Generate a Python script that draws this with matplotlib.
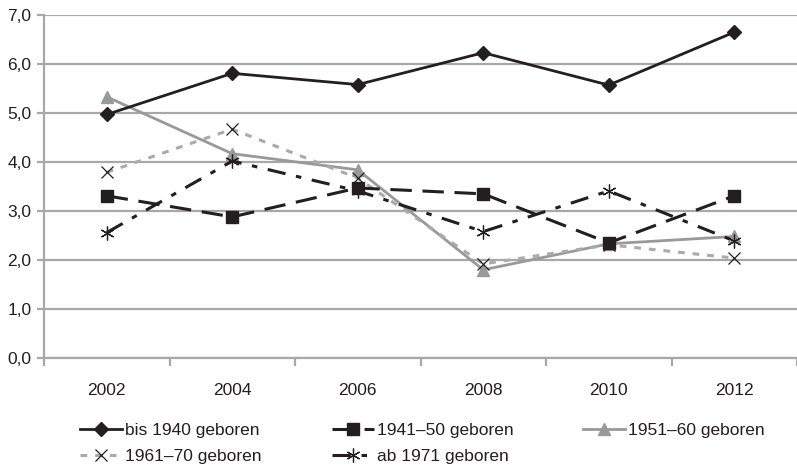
import numpy as np
import matplotlib.pyplot as plt

plt.rcParams['font.family'] = ['Liberation Sans Narrow', 'Liberation Sans', 'DejaVu Sans']

years = ['2002', '2004', '2006', '2008', '2010', '2012']
bis_1940 = [4.97, 5.81, 5.58, 6.23, 5.57, 6.65]
j1941_50 = [3.31, 2.88, 3.47, 3.35, 2.35, 3.31]
j1951_60 = [5.33, 4.17, 3.84, 1.80, 2.33, 2.48]
j1961_70 = [3.79, 4.67, 3.67, 1.92, 2.31, 2.04]
ab_1971 = [2.56, 4.02, 3.41, 2.58, 3.41, 2.39]
labels = ['bis 1940 geboren', '1941–50 geboren', '1951–60 geboren',
          '1961–70 geboren', 'ab 1971 geboren']

black = '#231f20'
gray = '#999999'
lgray = '#aaaaaa'
grid = '#a8a8a8'
fs = 12.5

fig = plt.figure(figsize=(7.97, 4.65), dpi=100)
ax = fig.add_axes([44 / 797, 0.2301, 1 - 44 / 797, 0.7376])

x = np.arange(len(years))
h1, = ax.plot(x, bis_1940, '-', color=black, lw=2.0, marker='D', ms=7.5,
              mfc=black, mec=black, label=labels[0], zorder=5)
h2, = ax.plot(x, j1941_50, color=black, lw=2.2, dashes=(7, 3.5), marker='s', ms=8,
              mfc=black, mec=black, label=labels[1], zorder=4)
h3, = ax.plot(x, j1951_60, '-', color=gray, lw=2.0, marker='^', ms=9,
              mfc=gray, mec=gray, label=labels[2], zorder=3)
h4, = ax.plot(x, j1961_70, color=lgray, lw=2.2, dashes=(2.2, 2.6), marker='x', ms=9,
              mfc='none', mec=black, mew=0.9, label=labels[3], zorder=3)
h5, = ax.plot(x, ab_1971, color=black, lw=2.2, dashes=(6, 3.5, 1.8, 3.5), marker=(6, 2, 0), ms=10,
              mec=black, mew=0.9, label=labels[4], zorder=4)

ax.set_xlim(-0.5, 5.5)
ax.set_ylim(0, 7)
ax.set_yticks(np.arange(0, 7.5, 1))
ax.set_yticklabels([f'{v:.1f}'.replace('.', ',') for v in np.arange(0, 7.5, 1)])
ax.set_xticks(x)
ax.set_xticklabels(years)
ax.set_xticks(np.arange(-0.5, 5.6, 1), minor=True)

ax.yaxis.grid(True, color=grid, lw=1.6)
ax.set_axisbelow(True)
for s in ['top', 'right']:
    ax.spines[s].set_visible(False)
for s in ['left', 'bottom']:
    ax.spines[s].set_color(grid)
    ax.spines[s].set_linewidth(1.6)

ax.tick_params(axis='x', which='major', length=0, pad=18, labelsize=fs, labelcolor=black)
ax.tick_params(axis='x', which='minor', length=6, width=1.6, color=grid)
ax.tick_params(axis='y', length=5, width=1.6, color=grid, pad=4, labelsize=fs, labelcolor=black)

# legend: three columns placed at fixed positions
cols = [([h1, h4], 80), ([h2, h5], 332), ([h3], 583)]
for hs, xp in cols:
    leg = fig.legend(handles=hs, loc='upper left', bbox_to_anchor=(xp / 797, 1 - 423 / 465),
                     frameon=False, fontsize=fs, handlelength=2.4, handletextpad=0.2,
                     labelspacing=0.6, borderpad=0, borderaxespad=0)
    for t in leg.get_texts():
        t.set_color(black)

fig.savefig('out.png', dpi=100)
